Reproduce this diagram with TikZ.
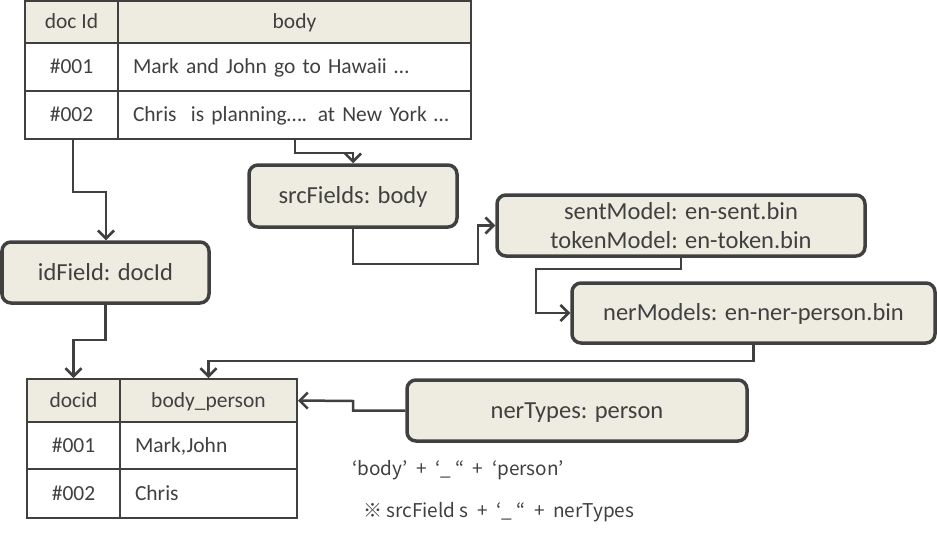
\documentclass[tikz,border=0pt]{standalone}
\usepackage{fontspec}
\setmainfont{Carlito}
\newfontfamily\cjk{Noto Sans CJK JP}
\usetikzlibrary{arrows.meta,calc}
\definecolor{beige}{HTML}{EEECE1}
\definecolor{dk}{HTML}{404040}
\begin{document}
\begin{tikzpicture}[x=1pt,y=-1pt,
  cell/.style={draw=dk, line width=2pt, inner sep=0pt, text=dk, font=\fontsize{21.5}{24}\selectfont, text height=13.6pt, text depth=0pt},
  hcell/.style={cell, fill=beige},
  lcell/.style={cell, inner xsep=15pt, align=left},
  box/.style={draw=dk, line width=3.5pt, fill=beige, rounded corners=9pt, inner sep=0pt, text=dk, font=\fontsize{24.5}{29}\selectfont, align=center},
  one/.style={text height=15.5pt, text depth=0pt},
  conn/.style={draw=dk, line width=2.5pt, -{Straight Barb[length=8pt,width=16pt,line width=2.5pt]}},
  note/.style={anchor=west, text=dk, inner sep=0pt, font=\cjk\fontsize{19}{22}\selectfont, text height=14pt, text depth=0pt}]
\useasboundingbox (0,0) rectangle (937,536);
% top table
\node[hcell, minimum width=93pt, minimum height=42pt] (ta0) at (71.5,22) {doc Id};
\node[hcell, minimum width=353pt, minimum height=42pt] (tb0) at (294.5,22) {body};
\node[cell, minimum width=93pt, minimum height=48pt] (ta1) at (71.5,67) {\#001};
\node[lcell, text width=323pt, minimum height=48pt] (tb1) at (294.5,67) {Mark and John go to Hawaii …};
\node[cell, minimum width=93pt, minimum height=48pt] (ta2) at (71.5,115) {\#002};
\node[lcell, text width=323pt, minimum height=48pt] (tb2) at (294.5,115) {Chris\ \ is planning…. at New York …};
% bottom table
\node[hcell, minimum width=93pt, minimum height=43pt] (ba0) at (73.5,400.5) {docid};
\node[hcell, minimum width=177pt, minimum height=43pt] (bb0) at (208.5,400.5) {body\_person};
\node[cell, minimum width=93pt, minimum height=47pt] (ba1) at (73.5,445.5) {\#001};
\node[lcell, text width=147pt, minimum height=47pt] (bb1) at (208.5,445.5) {Mark,John};
\node[cell, minimum width=93pt, minimum height=49pt] (ba2) at (73.5,493.5) {\#002};
\node[lcell, text width=147pt, minimum height=49pt] (bb2) at (208.5,493.5) {Chris};
% boxes
\node[box, one, minimum width=208pt, minimum height=62pt] (srcf) at (353,196) {srcFields: body};
\node[box, one, minimum width=207pt, minimum height=61pt] (idf) at (105.5,272.5) {idField: docId};
\node[box, minimum width=368pt, minimum height=61pt] (sm) at (681,225.5) {sentModel: en-sent.bin\\tokenModel: en-token.bin};
\node[box, one, minimum width=363pt, minimum height=60pt] (ner) at (753.5,313) {nerModels: en-ner-person.bin};
\node[box, one, minimum width=340pt, minimum height=61pt] (nt) at (577,410.5) {nerTypes: person};
% notes
\node[note] (n1) at (352,468) {‘body’\ \ +\ \ ‘\_ “\ \ +\ \ ‘person’};
\node[note] (n2) at (363,510) {※ srcField s\ \ +\ \ ‘\_ “\ \ +\ \ nerTypes};
% connectors
\draw[conn] (ta2.south -| 73,0) |- (106,192) -- (idf.north -| 106,0);
\draw[conn] (tb2.south -| 295,0) |- (353,153) -- (srcf.north);
\draw[conn] (srcf.south) |- (478,264) |- (sm.west);
\draw[conn] (sm.south) |- (536,269) |- (ner.west);
\draw[conn] (ner.south) |- (208.5,361) -- (bb0.north);
\draw[conn] (idf.south) |- (73.5,340) -- (ba0.north);
\draw[conn] (nt.west) -| (353,401) -- (bb0.east);
\end{tikzpicture}
\end{document}
